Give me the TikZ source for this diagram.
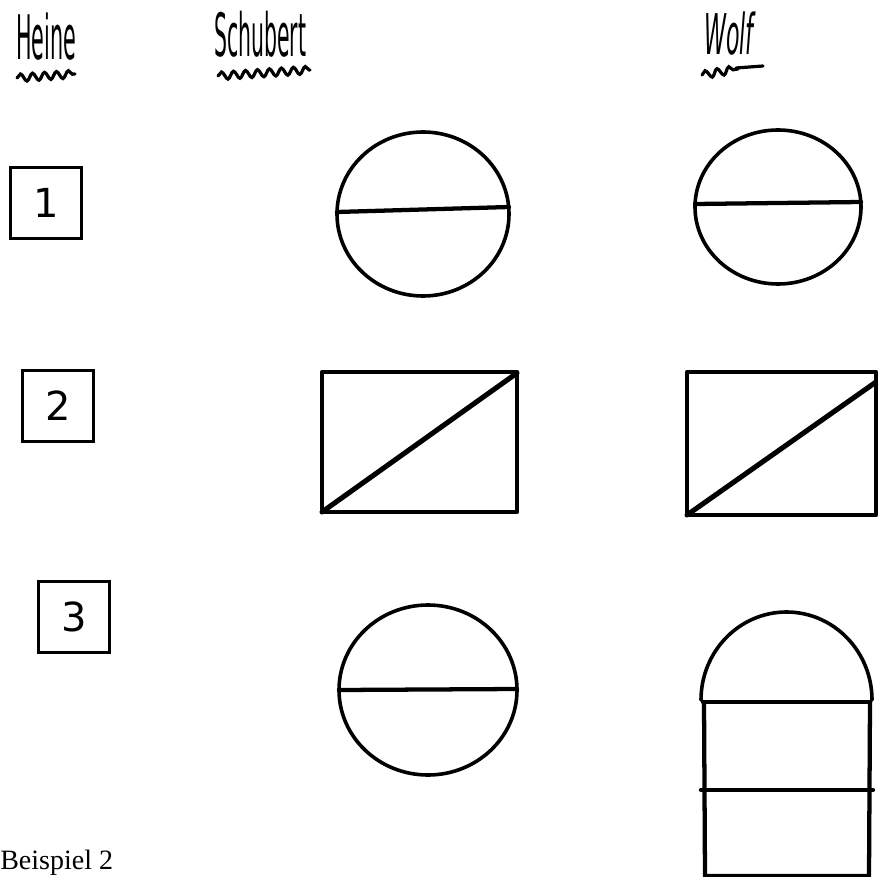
\documentclass[tikz,border=0pt]{standalone}
\usepackage{fontspec}
\setmainfont{Liberation Serif}
\newfontfamily\handfont{DejaVu Sans}
\usetikzlibrary{decorations.pathmorphing}
\begin{document}
\begin{tikzpicture}[x=0.75pt,y=-0.75pt,
  ink/.style={draw=black,line width=2.7pt,line cap=round,line join=round},
  inkthick/.style={draw=black,line width=3.2pt,line cap=round,line join=round},
  wave/.style={draw=black,line width=2.4pt,line cap=round,decorate,
    decoration={snake,amplitude=2.8pt,segment length=9pt}},
  hand/.style={inner sep=0pt,anchor=south west,font=\handfont},
  numbox/.style={draw=black,line width=2.6pt,minimum width=53pt,minimum height=53pt,
    inner sep=0pt,font=\handfont\fontsize{30}{30}\selectfont}]
\useasboundingbox[fill=white] (0,0) rectangle (878,877);

% headers
\node[hand] (heine) at (16,61) {\resizebox{45pt}{35pt}{Heine}};
\draw[wave] (17,78) -- (75,74);
\node[hand] (schubert) at (214,58) {\resizebox{69pt}{34pt}{Schubert}};
\draw[wave] (218,76) -- (310,70);
\node[hand] (wolf) at (704,56) {\resizebox{37pt}{32pt}{\itshape Wolf}};
\draw[wave] (702,75) -- (738,69);
\draw[draw=black,line width=2.4pt,line cap=round] (736,68) -- (763,66);

% Heine boxes
\node[numbox] (b1) at (46,203) {1};
\node[numbox] (b2) at (58,406) {2};
\node[numbox] (b3) at (74,617) {3};

% row 1
\draw[ink] (423,214) ellipse [x radius=86, y radius=82];
\coordinate (s1l) at (337,212); \coordinate (s1r) at (509,207);
\draw[inkthick] (s1l) -- (s1r);
\draw[ink] (778,207) ellipse [x radius=83, y radius=77];
\coordinate (w1l) at (695,204); \coordinate (w1r) at (861,202);
\draw[inkthick] (w1l) -- (w1r);

% row 2
\draw[inkthick] (322,372) rectangle (517,512);
\coordinate (s2a) at (322,512); \coordinate (s2b) at (517,373);
\draw[inkthick,line width=3.8pt] (s2a) -- (s2b);
\draw[inkthick] (687,372) rectangle (876,515);
\coordinate (w2a) at (687,515); \coordinate (w2b) at (876,382);
\draw[inkthick,line width=3.8pt] (w2a) -- (w2b);

% row 3
\draw[ink] (428,690) ellipse [x radius=89, y radius=85];
\coordinate (s3l) at (339,690); \coordinate (s3r) at (517,689);
\draw[inkthick] (s3l) -- (s3r);
\draw[ink] (701,700) arc[start angle=180, end angle=360, x radius=85.5, y radius=88];
\draw[inkthick] (703,702) -- (870,702);
\draw[inkthick] (704,702) -- (705,876) -- (869,876) -- (870,702);
\coordinate (w3l) at (701,790); \coordinate (w3r) at (873,790);
\draw[inkthick] (w3l) -- (w3r);

% caption
\node[inner sep=0pt,anchor=base west,font=\fontsize{21}{21}\selectfont] (cap) at (0,869) {Beispiel 2};
\end{tikzpicture}
\end{document}
